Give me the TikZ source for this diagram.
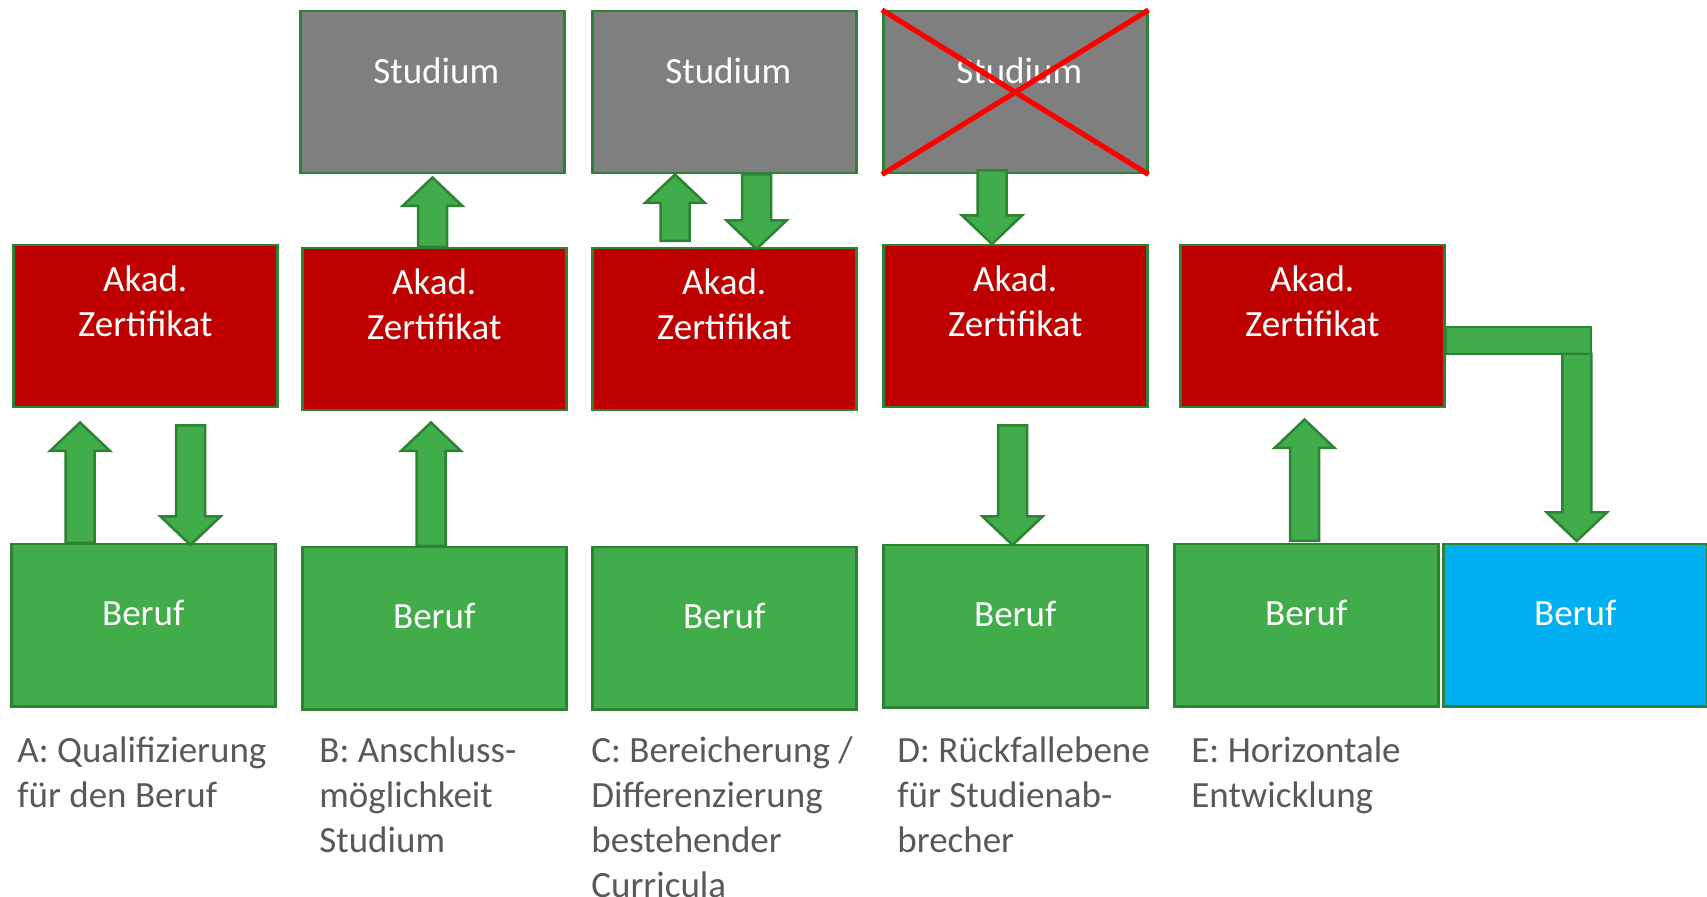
\documentclass[tikz,border=0pt]{standalone}
\usepackage{fontspec}
\setmainfont{Carlito}
\usetikzlibrary{calc}
\definecolor{boxgreen}{HTML}{41AD4A}
\definecolor{edgegreen}{HTML}{2E8235}
\definecolor{akadred}{HTML}{BE0000}
\definecolor{studgrey}{HTML}{7F7F7F}
\definecolor{berufblue}{HTML}{00B0F0}
\definecolor{labelgrey}{HTML}{595959}
\definecolor{crossred}{HTML}{FF0000}
\tikzset{
  box/.style={draw=edgegreen, line width=1.25pt, inner sep=0pt, anchor=north west,
              minimum width=132pt, minimum height=81pt},
  studbox/.style={box, fill=studgrey},
  akadbox/.style={box, fill=akadred},
  berufbox/.style={box, fill=boxgreen},
  bluebox/.style={box, fill=berufblue},
  boxtext/.style={text=white, font=\fontsize{18.5}{22.5}\selectfont, align=center, anchor=base, inner sep=0pt},
  labeltext/.style={text=labelgrey, font=\fontsize{18.5}{22.5}\selectfont, align=left, anchor=base west, inner sep=0pt},
  blockarr/.style={fill=boxgreen, draw=edgegreen, line width=1.25pt, line join=miter},
  crossline/.style={draw=crossred, line width=2.6pt},
}
% vertical block arrow: tail, tip, sign (+ for downward, - for upward)
\newcommand\varrow[3]{%
  \draw[blockarr] let \p1=#1, \p2=#2 in
    ({\x1-7.25pt},\y1) -- ({\x1-7.25pt},{\y2#3 14.25pt}) -- ({\x1-15pt},{\y2#3 14.25pt})
    -- (\x1,\y2) -- ({\x1+15pt},{\y2#3 14.25pt}) -- ({\x1+7.25pt},{\y2#3 14.25pt})
    -- ({\x1+7.25pt},\y1) -- cycle;}
\begin{document}
\begin{tikzpicture}[x=0.5pt, y=-0.5pt]
\useasboundingbox (0,0) rectangle (1707,897);
% Studium boxes
\node[studbox] (stB) at (299,10) {};
\node[studbox] (stC) at (591,10) {};
\node[studbox] (stD) at (882,10) {};
% Akad boxes
\node[akadbox] (akA) at (12,244) {};
\node[akadbox] (akB) at (301,247) {};
\node[akadbox] (akC) at (591,247) {};
\node[akadbox] (akD) at (882,244) {};
\node[akadbox] (akE) at (1179,244) {};
% Beruf boxes
\node[berufbox] (beA) at (10,543) {};
\node[berufbox] (beB) at (301,546) {};
\node[berufbox] (beC) at (591,546) {};
\node[berufbox] (beD) at (882,544) {};
\node[berufbox] (beE) at (1173,543) {};
\node[bluebox]  (beF) at (1442,543) {};
% texts (base anchor = baseline of the last line)
\node[boxtext] (tstB) at ([shift={(4,74)}]stB.north) {Studium};
\node[boxtext] (tstC) at ([shift={(4,74)}]stC.north) {Studium};
\node[boxtext] (tstD) at ([shift={(4,74)}]stD.north) {Studium};
\foreach \b in {akA,akB,akC,akD,akE}{
  \node[boxtext] (t\b) at ([shift={(0,93)}]\b.north) {Akad.\\Zertifikat};
}
\foreach \b in {beA,beB,beC,beD,beE,beF}{
  \node[boxtext] (t\b) at ([shift={(0,82)}]\b.north) {Beruf};
}
% cross over Studium D
\draw[crossline] (stD.north west) -- (stD.south east);
\draw[crossline] (stD.south west) -- (stD.north east);
% arrows A
\varrow{([shift={(70,0)}]beA.north west)}{([shift={(68,14)}]akA.south west)}{-}
\varrow{([shift={(178.5,17)}]akA.south west)}{([shift={(180.5,2)}]beA.north west)}{+}
% arrows B
\varrow{([shift={(131.5,0)}]akB.north west)}{([shift={(133.5,3)}]stB.south west)}{-}
\varrow{([shift={(130,0)}]beB.north west)}{([shift={(130,11)}]akB.south west)}{-}
% arrows C
\varrow{([shift={(84,-6)}]akC.north west)}{([shift={(84,0)}]stC.south west)}{-}
\varrow{([shift={(165.5,0)}]stC.south west)}{([shift={(165.5,2)}]akC.north west)}{+}
% arrows D
\varrow{([shift={(110,-4)}]stD.south west)}{([shift={(110,0)}]akD.north west)}{+}
\varrow{([shift={(130.5,17)}]akD.south west)}{([shift={(130.5,1)}]beD.north west)}{+}
% arrows E
\varrow{([shift={(131.5,-2)}]beE.north west)}{([shift={(125.5,11)}]akE.south west)}{-}
\draw[blockarr] ([shift={(0,83)}]akE.north east) rectangle ([shift={(145.5,110)}]akE.north east);
\varrow{([shift={(131.25,110)}]akE.north east)}{([shift={(132.25,-2)}]beF.north west)}{+}
% labels (base anchor = baseline of the last line; first line at y=762)
\node[labeltext] (lA) at (17,807) {A: Qualifizierung\\für den Beruf};
\node[labeltext] (lB) at (319,852) {B: Anschluss-\\möglichkeit\\Studium};
\node[labeltext] (lC) at (591,897) {C: Bereicherung /\\Differenzierung\\bestehender\\Curricula};
\node[labeltext] (lD) at (897,852) {D: Rückfallebene\\für Studienab-\\brecher};
\node[labeltext] (lE) at (1191,807) {E: Horizontale\\Entwicklung};
\end{tikzpicture}
\end{document}
